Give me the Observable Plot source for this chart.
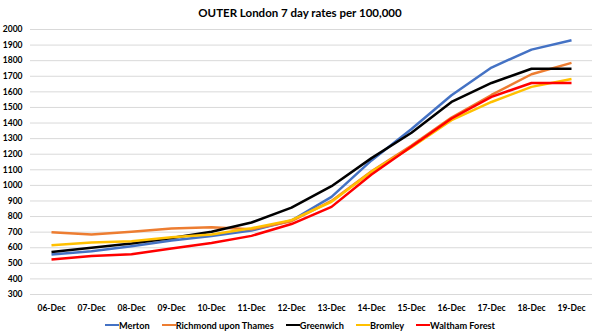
<!DOCTYPE html>
<html>
<head>
<meta charset="utf-8">
<script src="https://cdn.jsdelivr.net/npm/d3@7"></script>
<script src="https://cdn.jsdelivr.net/npm/@observablehq/plot@0.6"></script>
<style>
  html, body { margin: 0; padding: 0; background: #fff; }
  body { width: 600px; height: 335px; overflow: hidden; font-family: Lato, "Liberation Sans", sans-serif; }
  #title { height: 24px; line-height: 26px; text-align: center; font-weight: bold; font-size: 11.5px; color: #000; }
  #legend { display: flex; justify-content: center; align-items: center; height: 20px; font-size: 9.2px; font-weight: bold; color: #000; }
  .item { display: flex; align-items: center; margin: 0 6px; }
  .swatch { width: 14px; height: 2.5px; }
</style>
</head>
<body>
<div id="title">OUTER London 7 day rates per 100,000</div>
<div id="chart"></div>
<div id="legend"></div>
<script>
const dates = ["06-Dec","07-Dec","08-Dec","09-Dec","10-Dec","11-Dec","12-Dec","13-Dec","14-Dec","15-Dec","16-Dec","17-Dec","18-Dec","19-Dec"];
const seriesNames = ["Merton","Richmond upon Thames","Greenwich","Bromley","Waltham Forest"];
const seriesColors = ["#4472C4","#ED7D31","#000000","#FFC000","#FF0000"];
const merton    = [556, 577, 610, 646, 676, 710, 775, 926, 1160, 1362, 1578, 1756, 1871, 1931];
const richmond  = [700, 685, 702, 723, 732, 718, 770, 900, 1090, 1255, 1435, 1580, 1713, 1786];
const greenwich = [573, 600, 627, 663, 702, 762, 857, 995, 1175, 1338, 1535, 1657, 1748, 1748];
const bromley   = [616, 633, 642, 668, 685, 725, 777, 895, 1088, 1245, 1418, 1535, 1632, 1683];
const waltham   = [524, 547, 558, 595, 631, 676, 752, 862, 1070, 1250, 1429, 1568, 1657, 1657];
const yTicks = d3.range(300, 2001, 100);

const seriesValues = [merton, richmond, greenwich, bromley, waltham];
const data = [];
seriesNames.forEach((name, i) => {
  dates.forEach((d, j) => data.push({series: name, date: d, value: seriesValues[i][j]}));
});

const chart = Plot.plot({
  width: 600,
  height: 291,
  marginLeft: 30,
  marginRight: 8,
  marginTop: 5,
  marginBottom: 21,
  style: {fontFamily: "Lato, 'Liberation Sans', sans-serif", fontSize: "8.5px", fontWeight: "bold", color: "#000", background: "#fff"},
  x: {type: "point", domain: dates, padding: 0.5, label: null},
  y: {domain: [300, 2000], label: null},
  color: {domain: seriesNames, range: seriesColors},
  marks: [
    Plot.gridY(yTicks, {stroke: "#d9d9d9", strokeOpacity: 1, strokeWidth: 1}),
    Plot.axisY(yTicks, {tickSize: 0, tickPadding: 8, tickFormat: d3.format("d"), label: null, fill: "#000"}),
    Plot.axisX({tickSize: 0, tickPadding: 10, label: null, fill: "#000"}),
    Plot.line(data, {x: "date", y: "value", z: "series", stroke: "series", strokeWidth: 2.5, strokeLinejoin: "round", strokeLinecap: "butt"})
  ]
});
document.getElementById("chart").appendChild(chart);

const legend = document.getElementById("legend");
seriesNames.forEach((name, i) => {
  const item = document.createElement("div");
  item.className = "item";
  const sw = document.createElement("span");
  sw.className = "swatch";
  sw.style.background = seriesColors[i];
  const label = document.createElement("span");
  label.textContent = name;
  item.appendChild(sw);
  item.appendChild(label);
  legend.appendChild(item);
});
</script>
</body>
</html>
